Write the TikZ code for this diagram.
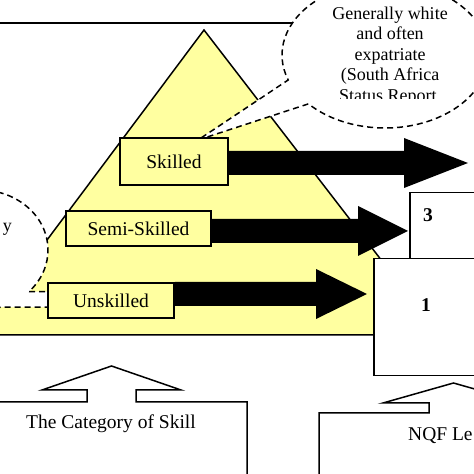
\documentclass[tikz,border=0pt]{standalone}
\usepackage{fontspec}
\setmainfont{Liberation Serif}
\usetikzlibrary{calc}
\definecolor{pyr}{RGB}{255,255,160}
\begin{document}
\begin{tikzpicture}[x=1pt,y=1pt,
  outl/.style={draw=black,line width=1.5pt,line join=miter},
  lbox/.style={outl,fill=pyr,inner sep=0pt,anchor=center,font=\fontsize{19.5}{22}\selectfont},
  wbox/.style={outl,fill=white,inner sep=0pt,anchor=north west},
  bubble/.style={draw=black,line width=1.5pt,dash pattern=on 6pt off 4pt,fill=white},
  blk/.style={fill=black},
  lbl/.style={inner sep=0pt,font=\fontsize{19.5}{22}\selectfont},
  btxt/.style={inner sep=0pt,font=\fontsize{18}{21}\selectfont},
]
\useasboundingbox (0,0) rectangle (474,474);
\clip (0,0) rectangle (474,474);
\fill[white] (0,0) rectangle (474,474);
% top frame line
\coordinate (tl) at (0,451);
\coordinate (tr) at (474,451);
\draw[outl] (tl) -- (tr);
% pyramid
\draw[outl,fill=pyr] (204,444) -- (439,139) -- (-24,139) -- cycle;
% right callout bubble
\draw[bubble] (198,334) -- ($(385,419)+(222:103 and 73)$)
  arc[start angle=222,end angle=560,x radius=103,y radius=73] -- cycle;
\begin{scope}
\clip (280,375) rectangle (474,474);
\node[btxt,anchor=base] (r1) at (390,454.5) {Generally white};
\node[btxt,anchor=base] (r2) at (390,434) {and often};
\node[btxt,anchor=base] (r3) at (390,413.5) {expatriate};
\node[btxt,anchor=base] (r4) at (390,393) {(South Africa};
\node[btxt,anchor=base] (r5) at (390,372.5) {Status Report,};
\end{scope}
% left callout bubble
\draw[bubble] (55,182.3) -- ($(-20,224)+(-44:68 and 60)$)
  arc[start angle=-44,end angle=288,x radius=68,y radius=60] -- (55,167) -- cycle;
\node[btxt,anchor=base east] (ly) at (12,242) {y};
% category boxes
\node[lbox,minimum width=108,minimum height=47] (sk) at (174,312.5) {Skilled};
\node[lbox,minimum width=145,minimum height=35] (se) at (138.5,245.5) {Semi-Skilled};
\node[lbox,minimum width=126,minimum height=35] (un) at (111,173.5) {Unskilled};
% block arrows
\fill[blk] (sk.east |- 0,299) -- (404,299) -- (404,286) -- (468,311) -- (404,336) -- (404,323) -- (sk.east |- 0,323) -- cycle;
\fill[blk] (se.east |- 0,231) -- (358,231) -- (358,218) -- (408,243) -- (358,268) -- (358,255) -- (se.east |- 0,255) -- cycle;
\fill[blk] (un.east |- 0,168) -- (316,168) -- (316,155) -- (367,180) -- (316,205) -- (316,192) -- (un.east |- 0,192) -- cycle;
% NQF level boxes
\node[wbox,minimum width=90,minimum height=140] (b3) at (409,282) {};
\node[lbl,font=\fontsize{19.5}{22}\selectfont\bfseries] (n3) at (428,259) {3};
\node[wbox,minimum width=120,minimum height=117] (b1) at (373,216) {};
\node[lbl,font=\fontsize{19.5}{22}\selectfont\bfseries] (n1) at (426,169) {1};
% bottom callouts
\draw[outl,fill=white] (-10,72) -- (87,72) -- (87,84) -- (42,84) -- (111.5,108) -- (181,84)
  -- (136,84) -- (136,72) -- (247,72) -- (247,-10) -- (-10,-10) -- cycle;
\node[lbl,anchor=base] (cat) at (111,45) {The Category of Skill};
\draw[outl,fill=white] (319,-10) -- (319,61) -- (429,61) -- (429,71) -- (383,71) -- (453.5,91)
  -- (524,71) -- (600,71) -- (600,-10) -- cycle;
\node[lbl,anchor=base west] (nqf) at (408,33) {NQF Le};
\end{tikzpicture}
\end{document}
